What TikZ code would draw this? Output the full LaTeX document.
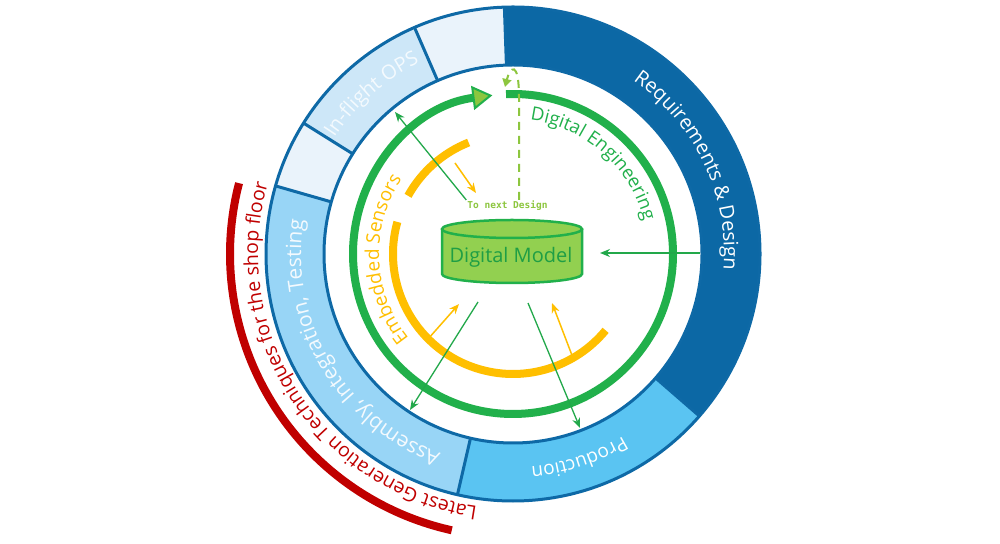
\documentclass[tikz,border=0pt]{standalone}
\usepackage{fontspec}
\setmainfont{Open Sans}
\newfontfamily\monofnt{DejaVu Sans Mono}
\usetikzlibrary{calc,decorations.text,arrows.meta}
\definecolor{reqblue}{HTML}{0C68A5}
\definecolor{ringline}{HTML}{0E69A6}
\definecolor{blankseg}{HTML}{EAF3FB}
\definecolor{flightseg}{HTML}{CDE7F8}
\definecolor{asmseg}{HTML}{98D5F6}
\definecolor{prodseg}{HTML}{5AC4F2}
\definecolor{gring}{HTML}{21B04B}
\definecolor{gthin}{HTML}{22A84A}
\definecolor{lgreen}{HTML}{8DC63F}
\definecolor{dmfill}{HTML}{92D050}
\definecolor{dmtext}{HTML}{1F9E45}
\definecolor{oring}{HTML}{FFBF00}
\definecolor{redarc}{HTML}{C00000}
\definecolor{lighttext}{HTML}{F4FAFE}
\newcommand\ringseg[3]{\fill[#1] ($(c)+(#2:247)$) arc[start angle=#2, end angle=#3, radius=247] -- ($(c)+(#3:189)$) arc[start angle=#3, end angle=#2, radius=189] -- cycle;}
\newcommand\ringdiv[1]{\draw[ringborder] ($(c)+(#1:189)$) -- ($(c)+(#1:247)$);}
% #1 centre, #2 colour, #3 size, #4 radius, #5 start, #6 end, #7 text
\newcommand\arctext[7]{\path[decorate,decoration={text along path, text align=center, text color=#2, text={|\fontsize{#3}{#3}\selectfont|#7}}] ($(#1)+(#5:#4)$) arc[start angle=#5, end angle=#6, radius=#4];}
\tikzset{
  ringborder/.style={draw=ringline, line width=3pt},
  garrow/.style={draw=gthin, line width=1.3pt, -{Stealth[length=10pt,width=8pt]}},
  oarrow/.style={draw=oring, line width=1.5pt, -{Stealth[length=10pt,width=8pt]}},
  orangearc/.style={draw=oring, line width=8pt},
  dmline/.style={draw=gring, line width=2.5pt},
}
\begin{document}
\begin{tikzpicture}[x=1pt,y=1pt]
\useasboundingbox (0,0) rectangle (1000,543);
\fill[white] (0,0) rectangle (1000,543);
\coordinate (c) at (513,289);
% ring segments
\ringseg{reqblue}{-41}{92}
\ringseg{blankseg}{92}{113.5}
\ringseg{flightseg}{113.5}{148}
\ringseg{blankseg}{148}{164}
\ringseg{asmseg}{164}{257}
\ringseg{prodseg}{257}{319}
\draw[ringborder] (c) circle[radius=247];
\draw[ringborder] (c) circle[radius=189];
\ringdiv{92}\ringdiv{113.5}\ringdiv{148}\ringdiv{164}\ringdiv{257}\ringdiv{-41}
% red arc
\draw[draw=redarc, line width=8pt] ($(c)+(165.5:283)$) arc[start angle=165.5, end angle=257.5, radius=283];
% green ring with arrow
\draw[draw=gring, line width=8pt, -{Triangle[length=20pt,width=24pt,line width=2pt,fill=lgreen]}] ($(c)+(92.5:160)$) arc[start angle=92.5, end angle=-262.6, radius=160];
% orange arcs
\draw[orangearc] ($(c)+(111.7:120)$) arc[start angle=111.7, end angle=151, radius=120];
\draw[orangearc] ($(c)+(164.5:120)$) arc[start angle=164.5, end angle=320.5, radius=120];
% cylinder
\fill[dmfill] (442,314) -- (442,269) arc[start angle=180,end angle=360,x radius=70,y radius=9] -- (582,314) arc[start angle=0,end angle=180,x radius=70,y radius=9] -- cycle;
\draw[dmline] (442,314) -- (442,269) arc[start angle=180,end angle=360,x radius=70,y radius=9] -- (582,314);
\draw[dmline] (512,314) ellipse[x radius=70, y radius=9];
\node[anchor=base, text=dmtext, font=\fontsize{20}{20}\selectfont, inner sep=0pt] (dm) at (511,280) {Digital Model};
% to next design
\node[text=lgreen, font=\monofnt\bfseries\fontsize{9.5}{10}\selectfont, inner sep=1pt] (tnd) at (507.5,337) {To next Design};
\coordinate (dtop) at (519,445);
\coordinate (dtip) at (505,456);
\draw[draw=lgreen, line width=2pt, dash pattern=on 8pt off 6pt, -{Triangle[length=8pt,width=9pt]}] (tnd.north -| dtop) -- (dtop) .. controls (519,484) and (510,476) .. (dtip);
% coordinates for arrows
\coordinate (flight) at (395,431);
\coordinate (reqin) at (700,290);
\coordinate (dmright) at (600,290);
\coordinate (dmbl) at (478,241);
\coordinate (asm) at (410,133);
\coordinate (dmbr) at (528,240);
\coordinate (prod) at (580,115);
\draw[garrow] (tnd.north west) -- (flight);
\draw[garrow] (reqin) -- (dmright);
\draw[garrow] (dmbl) -- (asm);
\draw[garrow] (dmbr) -- (prod);
\coordinate (os1) at (455,380);
\coordinate (oe1) at (476,350);
\coordinate (os2) at ($(c)+(225:120)$);
\coordinate (oe2) at (459,239);
\coordinate (os3) at ($(c)+(-60:120)$);
\coordinate (oe3) at (552,240);
\draw[oarrow] (os1) -- (oe1);
\draw[oarrow] (os2) -- (oe2);
\draw[oarrow] (os3) -- (oe3);
% texts
\arctext{c}{white}{20}{211}{70}{-19}{Requirements {\&} Design}
\arctext{c}{white}{19}{213}{-42}{-102}{Production}
\arctext{c}{lighttext}{21}{212}{268}{153}{Assembly, Integration, Testing}
\arctext{c}{lighttext}{20}{213}{160}{103}{In-flight OPS}
\arctext{c}{gring}{18.5}{135}{93}{3.8}{Digital Engineering}
\arctext{c}{oring}{19}{134}{228}{137}{Embedded Sensors}
\arctext{c}{redarc}{19.5}{255}{278}{148}{Latest Generation Techniques for the shop floor}
\end{tikzpicture}
\end{document}
